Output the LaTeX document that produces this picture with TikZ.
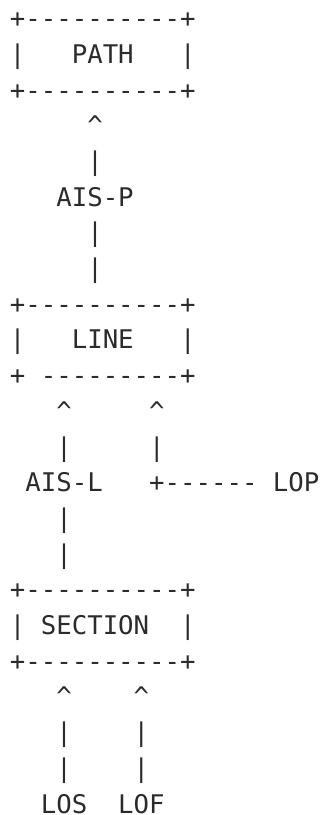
\documentclass[tikz,border=0pt]{standalone}
\usepackage{fontspec}
\setmonofont{DejaVu Sans Mono}
\usepackage{xcolor}
\usetikzlibrary{positioning}
\definecolor{ink}{HTML}{2B2B2B}
\newcommand{\upc}{\textasciicircum}

\begin{document}
\begin{tikzpicture}[x=15.47pt,y=-35.7pt,
  every node/.style={inner sep=0pt,anchor=base west,text=ink,
    font=\ttfamily\fontsize{25.7}{30}\selectfont}]
  \useasboundingbox (-9.75pt,27.6pt) rectangle (312.25pt,-787.4pt);
  % one entry per text run: column/row/text/name
  \foreach \c/\r/\txt/\nm in {
    0/0/{+----------+}/pathtop,
    0/1/{|}/pathl, 4/1/{PATH}/path, 11/1/{|}/pathr,
    0/2/{+----------+}/pathbot,
    5/3/{\upc}/aispup, 5/4/{|}/aispa,
    3/5/{AIS-P}/aisp,
    5/6/{|}/aispb, 5/7/{|}/aispc,
    0/8/{+----------+}/linetop,
    0/9/{|}/linel, 4/9/{LINE}/line, 11/9/{|}/liner,
    0/10/{+}/linecorner, 2/10/{---------+}/linebot,
    3/11/{\upc}/aislup, 9/11/{\upc}/lopup,
    3/12/{|}/aisla, 9/12/{|}/lopa,
    1/13/{AIS-L}/aisl, 9/13/{+------}/lopwire, 17/13/{LOP}/lop,
    3/14/{|}/aislb, 3/15/{|}/aislc,
    0/16/{+----------+}/sectop,
    0/17/{|}/secl, 2/17/{SECTION}/section, 11/17/{|}/secr,
    0/18/{+----------+}/secbot,
    3/19/{\upc}/losup, 8/19/{\upc}/lofup,
    3/20/{|}/losa, 8/20/{|}/lofa,
    3/21/{|}/losb, 8/21/{|}/lofb,
    2/22/{LOS}/los, 7/22/{LOF}/lof}
  {
    \node (\nm) at (\c,\r) {\txt};
  }
\end{tikzpicture}
\end{document}
